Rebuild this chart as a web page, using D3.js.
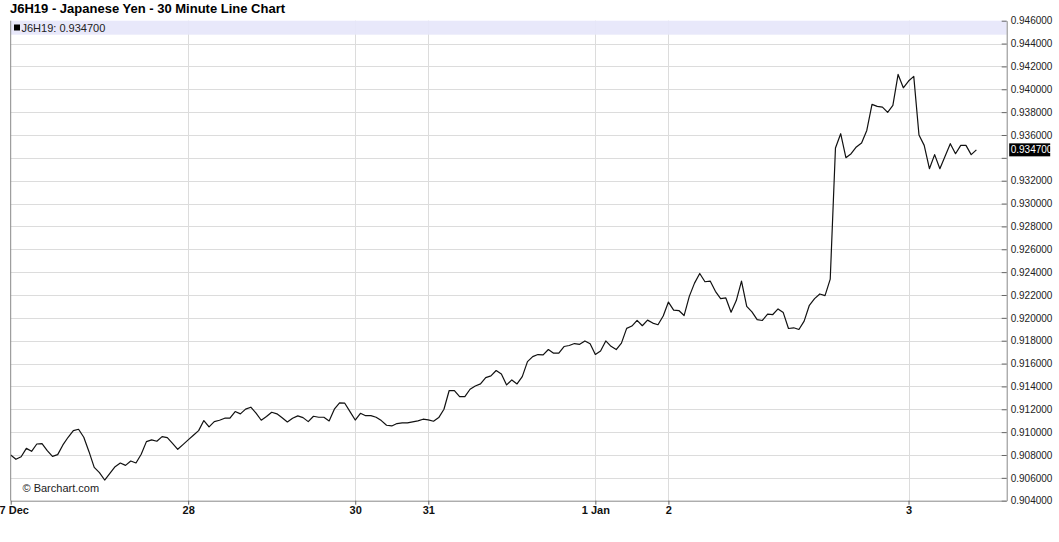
<!DOCTYPE html>
<html>
<head>
<meta charset="utf-8">
<script src="https://cdn.jsdelivr.net/npm/d3@7"></script>
<style>
  body { margin: 0; background: #fff; }
  svg { display: block; font-family: Arial, "Liberation Sans", sans-serif; }
</style>
</head>
<body>
<svg id="chart" width="1059" height="542"></svg>
<script>
// ---- data ----
const title = "J6H19 - Japanese Yen - 30 Minute Line Chart";
const symbol = "J6H19";
const lastValue = 0.9347;
const values = [
  0.90800,0.90762,0.90785,0.90858,0.90832,0.90896,0.90899,0.90838,0.90788,0.90803,
  0.90888,0.90955,0.91013,0.91025,0.90955,0.90829,0.90692,0.90645,0.90581,0.90639,
  0.90698,0.90730,0.90709,0.90747,0.90730,0.90806,0.90917,0.90932,0.90920,0.90961,
  0.90952,0.90902,0.90850,0.90891,0.90932,0.90973,0.91013,0.91101,0.91046,0.91092,
  0.91104,0.91122,0.91122,0.91180,0.91160,0.91201,0.91218,0.91166,0.91104,0.91136,
  0.91174,0.91160,0.91125,0.91089,0.91122,0.91142,0.91127,0.91092,0.91139,0.91130,
  0.91130,0.91098,0.91201,0.91256,0.91253,0.91180,0.91106,0.91165,0.91144,0.91144,
  0.91130,0.91101,0.91060,0.91054,0.91075,0.91081,0.91081,0.91090,0.91098,0.91113,
  0.91107,0.91095,0.91127,0.91200,0.91364,0.91364,0.91311,0.91311,0.91375,0.91404,
  0.91422,0.91477,0.91492,0.91539,0.91509,0.91413,0.91457,0.91422,0.91486,0.91617,
  0.91661,0.91679,0.91676,0.91723,0.91691,0.91691,0.91749,0.91758,0.91775,0.91768,
  0.91798,0.91774,0.91680,0.91710,0.91798,0.91751,0.91722,0.91779,0.91908,0.91928,
  0.91978,0.91931,0.91980,0.91954,0.91940,0.92016,0.92138,0.92068,0.92064,0.92020,
  0.92188,0.92304,0.92388,0.92316,0.92322,0.92232,0.92168,0.92174,0.92049,0.92151,
  0.92322,0.92101,0.92052,0.91985,0.91977,0.92032,0.92029,0.92078,0.92046,0.91907,
  0.91913,0.91898,0.91971,0.92110,0.92168,0.92209,0.92194,0.92339,0.93486,0.93611,
  0.93401,0.93436,0.93495,0.93530,0.93640,0.93868,0.93850,0.93844,0.93798,0.93859,
  0.94130,0.94013,0.94072,0.94113,0.93600,0.93509,0.93305,0.93428,0.93305,0.93413,
  0.93524,0.93436,0.93509,0.93509,0.93428,0.93470
];
const xTickIndex = [0, 34, 66, 80, 112, 126, 172];
const xTickLabels = ["27 Dec", "28", "30", "31", "1 Jan", "2", "3"];
const yTicks = [0.904,0.906,0.908,0.910,0.912,0.914,0.916,0.918,0.920,0.922,0.924,
                0.926,0.928,0.930,0.932,0.934,0.936,0.938,0.940,0.942,0.944,0.946];

// ---- layout ----
const L = 10.7, R = 1006.7, T = 20.7, B = 500.7;
const lastX = 976.4;
const svg = d3.select("#chart");

const x = d3.scaleLinear().domain([0, values.length - 1]).range([L, lastX]);
const y = d3.scaleLinear().domain([0.904, 0.946]).range([B, T]);

// gridlines
const grid = svg.append("g");
grid.selectAll("line.h").data(yTicks.slice(1, -1)).join("line")
  .attr("x1", L).attr("x2", R)
  .attr("y1", d => Math.round(y(d)) + 0.5).attr("y2", d => Math.round(y(d)) + 0.5)
  .attr("stroke", "#dcdcdc").attr("stroke-width", 1);
grid.selectAll("line.v").data(xTickIndex.slice(1)).join("line")
  .attr("x1", d => Math.round(x(d)) + 0.5).attr("x2", d => Math.round(x(d)) + 0.5)
  .attr("y1", T).attr("y2", B)
  .attr("stroke", "#dcdcdc").attr("stroke-width", 1);

// legend band
svg.append("rect").attr("x", L).attr("y", T).attr("width", R - L).attr("height", 14)
  .attr("fill", "#e6e6fa").attr("opacity", 0.92);
svg.append("rect").attr("x", 14).attr("y", 24.5).attr("width", 6).attr("height", 6).attr("fill", "#000");
svg.append("text").attr("x", 21.5).attr("y", 31.5).attr("font-size", 11).attr("fill", "#222")
  .text(symbol + ": " + d3.format(".6f")(lastValue));

// title
svg.append("text").attr("x", 10).attr("y", 13).attr("font-size", 13).attr("font-weight", "bold")
  .attr("fill", "#000").text(title);

// line
svg.append("path").datum(values)
  .attr("fill", "none").attr("stroke", "#111").attr("stroke-width", 1.2)
  .attr("stroke-linejoin", "round")
  .attr("d", d3.line().x((d, i) => x(i)).y(d => y(d)));

// right axis
const yAxis = d3.axisRight(y).tickValues(yTicks).tickSizeInner(-5).tickSizeOuter(0).tickPadding(4)
  .tickFormat(d => Math.abs(d - 0.934) < 1e-9 ? "" : d3.format(".6f")(d));
const ya = svg.append("g").attr("transform", `translate(${R},0)`).call(yAxis);
ya.select(".domain").attr("stroke", "#888");
ya.selectAll(".tick line").attr("stroke", "#666");
ya.selectAll(".tick text").attr("font-size", 10).attr("fill", "#222").attr("font-family", "Arial, 'Liberation Sans', sans-serif");

// current value marker
const cy = y(lastValue);
svg.append("rect").attr("x", R + 2.5).attr("y", cy - 6.5).attr("width", 41).attr("height", 13).attr("fill", "#000");
svg.append("text").attr("x", R + 4).attr("y", cy).attr("dy", "0.35em").attr("font-size", 10)
  .attr("fill", "#fff").text(d3.format(".6f")(lastValue));

// left axis line
svg.append("line").attr("x1", L).attr("x2", L).attr("y1", T).attr("y2", B)
  .attr("stroke", "#888");

// bottom axis
const xAxis = d3.axisBottom(x).tickValues(xTickIndex).tickSizeInner(4).tickSizeOuter(0).tickPadding(2)
  .tickFormat((d, i) => xTickLabels[i]);
const xa = svg.append("g").attr("transform", `translate(0,${B})`).call(xAxis);
xa.select(".domain").attr("d", `M${L},0.5H${R}`).attr("stroke", "#888");
xa.selectAll(".tick line").attr("stroke", "#666");
xa.selectAll(".tick text").attr("font-size", 11).attr("font-weight", "bold").attr("fill", "#111")
  .attr("font-family", "Arial, 'Liberation Sans', sans-serif");

// watermark
svg.append("text").attr("x", 22.5).attr("y", 492).attr("font-size", 11).attr("fill", "#222")
  .text("© Barchart.com");
</script>
</body>
</html>
